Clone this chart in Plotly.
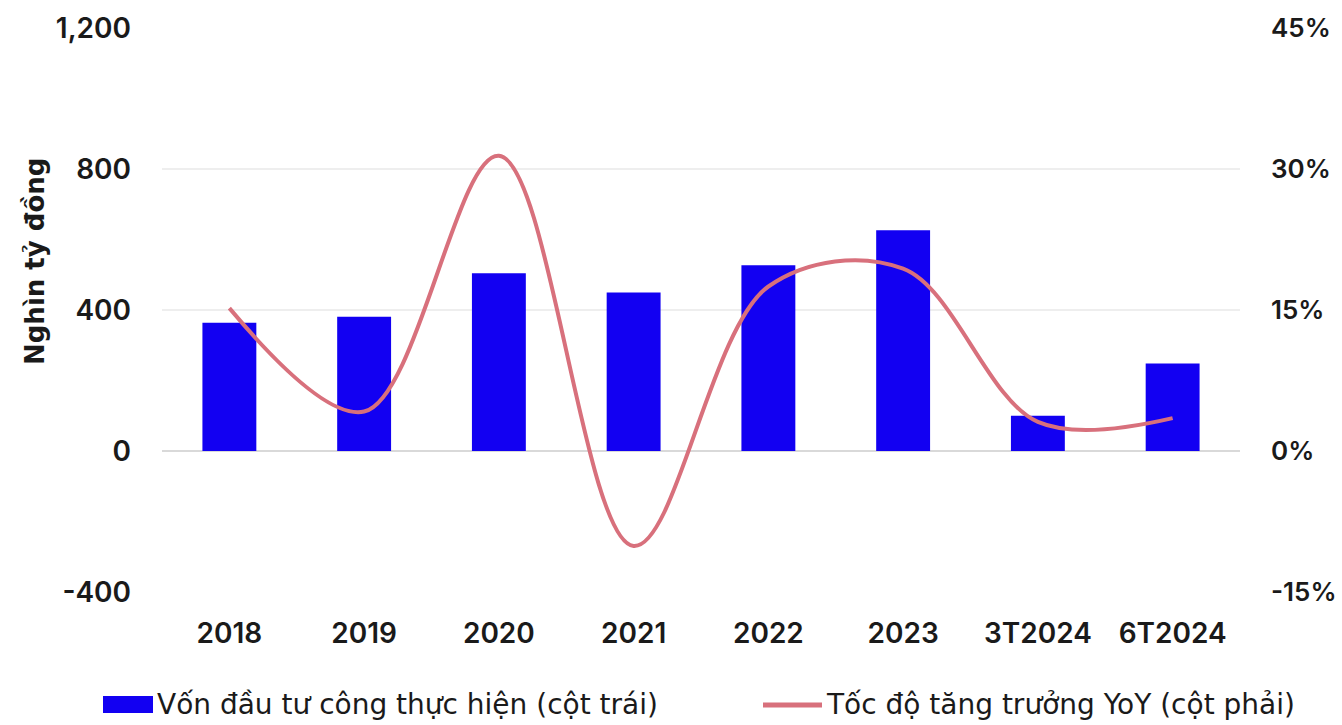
import plotly.graph_objects as go

# Public investment disbursed (left axis, thousand billion VND) and YoY growth (right axis, %)
categories = ["2018", "2019", "2020", "2021", "2022", "2023", "3T2024", "6T2024"]
von_dau_tu = [364, 381, 504, 450, 527, 626, 100, 248]
tang_truong = [15.2, 4.2, 31.4, -10.1, 17.5, 19.4, 3.1, 3.5]

left_ticks = [-400, 0, 400, 800, 1200]
left_labels = ["-400", "0", "400", "800", "1,200"]
right_ticks = [-15, 0, 15, 30, 45]
right_labels = ["-15%", "0%", "15%", "30%", "45%"]

bar_name = "Vốn đầu tư công thực hiện (cột trái)"
line_name = "Tốc độ tăng trưởng YoY (cột phải)"
y_title = "Nghìn tỷ đồng"

BLUE = "#1200F2"
PINK = "#D8707C"
TICK_FONT = "Inter"
TEXT_FONT = "DejaVu Sans"
W, H = 1342, 725
L, R, T, B = 162, 102, 28, 133
pw, ph = W - L - R, H - T - B


def px(x):
    return (x - L) / pw


def py(y):
    return (H - B - y) / ph


fig = go.Figure()
fig.add_trace(go.Bar(
    x=categories, y=von_dau_tu, name=bar_name,
    marker=dict(color=BLUE, line=dict(width=0)),
    yaxis="y", showlegend=False,
))
fig.add_trace(go.Scatter(
    x=categories, y=tang_truong, name=line_name, mode="lines",
    line=dict(color=PINK, width=4, shape="spline", smoothing=1.0),
    yaxis="y2", showlegend=False,
))

tick_font = dict(family=TICK_FONT, size=28, color="#1a1a1a", weight=600)
right_tick_font = dict(family=TICK_FONT, size=26, color="#1a1a1a", weight=600)

fig.update_layout(
    width=W, height=H,
    margin=dict(l=L, r=R, t=T, b=B, autoexpand=False),
    paper_bgcolor="white", plot_bgcolor="white",
    bargap=0.6,
    xaxis=dict(
        type="category", showgrid=False, showline=False, ticks="",
        tickfont=tick_font, ticklabelstandoff=22, automargin=False,
    ),
    yaxis=dict(
        range=[-400, 1200], tickvals=left_ticks, ticktext=left_labels,
        showgrid=True, gridcolor="#EEEEEE", gridwidth=1.5,
        zeroline=True, zerolinecolor="#D9D9D9", zerolinewidth=1.5,
        showline=False, ticks="", tickfont=tick_font, ticklabelstandoff=30,
        automargin=False,
    ),
    yaxis2=dict(
        range=[-15, 45], tickvals=right_ticks, ticktext=right_labels,
        overlaying="y", side="right", showgrid=False, zeroline=False,
        showline=False, ticks="", tickfont=right_tick_font, ticklabelstandoff=30,
        automargin=False,
    ),
    shapes=[
        dict(type="rect", xref="paper", yref="paper",
             x0=px(103), x1=px(153), y0=py(713), y1=py(696),
             fillcolor=BLUE, line=dict(width=0)),
        dict(type="line", xref="paper", yref="paper",
             x0=px(763), x1=px(822), y0=py(705), y1=py(705),
             line=dict(color=PINK, width=5)),
    ],
    annotations=[
        dict(text=bar_name, xref="paper", yref="paper", x=px(155), y=py(704),
             xanchor="left", yanchor="middle", showarrow=False,
             font=dict(family=TEXT_FONT, size=28, color="#1a1a1a")),
        dict(text=line_name, xref="paper", yref="paper", x=px(824), y=py(704),
             xanchor="left", yanchor="middle", showarrow=False,
             font=dict(family=TEXT_FONT, size=28, color="#1a1a1a")),
        dict(text=y_title, xref="paper", yref="paper", x=px(35), y=py(262),
             xanchor="center", yanchor="middle", textangle=-90, showarrow=False,
             font=dict(family=TEXT_FONT, size=26, color="#1a1a1a", weight="bold")),
    ],
)

fig.write_html("out.html")
